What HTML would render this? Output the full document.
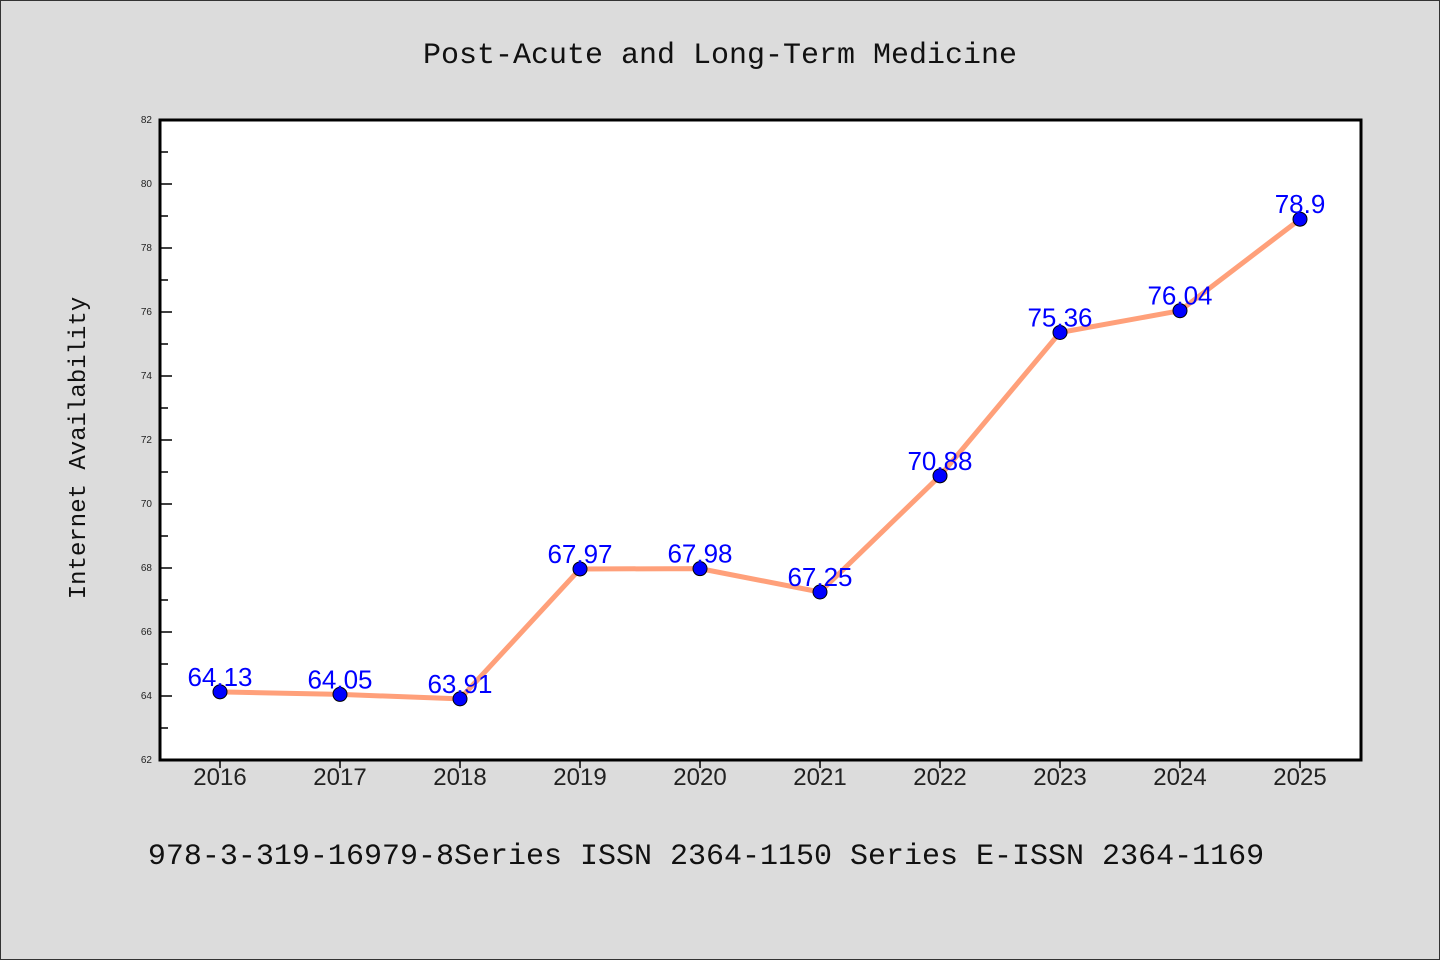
<!DOCTYPE html>
<html><head><meta charset="utf-8"><style>
html,body{margin:0;padding:0;background:#dcdcdc;}
svg{display:block;}
</style></head><body>
<svg id="chart" width="1440" height="960" xmlns="http://www.w3.org/2000/svg">
<rect x="0.5" y="0.5" width="1439" height="959" fill="#dcdcdc" stroke="#333"/>
<text x="720" y="63" text-anchor="middle" font-family="'Liberation Mono','WenQuanYi Zen Hei',monospace" font-size="30" fill="#111">Post-Acute and Long-Term Medicine</text>
<rect x="160" y="120" width="1201" height="640" fill="#fff" stroke="#000" stroke-width="3"/>
<text transform="translate(85,448) rotate(-90)" text-anchor="middle" font-family="'Liberation Mono','WenQuanYi Zen Hei',monospace" font-size="24" fill="#111">Internet Availability</text>
<text x="706" y="864" text-anchor="middle" font-family="'Liberation Mono','WenQuanYi Zen Hei',monospace" font-size="30" fill="#111">978-3-319-16979-8Series ISSN 2364-1150 Series E-ISSN 2364-1169</text>
<g id="axes"></g>
<g id="series"></g>
</svg>
<script>
const years = ["2016","2017","2018","2019","2020","2021","2022","2023","2024","2025"];
const values = [64.13,64.05,63.91,67.97,67.98,67.25,70.88,75.36,76.04,78.9];
const valueLabels = ["64.13","64.05","63.91","67.97","67.98","67.25","70.88","75.36","76.04","78.9"];
const yTicks = [62,64,66,68,70,72,74,76,78,80,82];
const yMin = 62, yMax = 82;
const NS = "http://www.w3.org/2000/svg";
const px0 = 160, px1 = 1361, py0 = 760, py1 = 120;
function xPos(i){ return 220 + i * (1300 - 220) / (years.length - 1); }
function yPos(v){ return py0 - (v - yMin) / (yMax - yMin) * (py0 - py1); }
function mk(tag, attrs){ const e = document.createElementNS(NS, tag); for (const k in attrs) e.setAttribute(k, attrs[k]); return e; }
const axes = document.getElementById('axes');
const series = document.getElementById('series');
yTicks.forEach(function(t){
  const y = yPos(t);
  const tk = mk('line', {x1: px0, x2: px0 + 12, y1: y, y2: y, stroke: '#000', 'stroke-width': 1.5});
  
  
  axes.appendChild(tk);
  const lb = mk('text', {x: 152, y: y + 3, 'text-anchor': 'end', 'font-family': 'Liberation Sans, sans-serif', 'font-size': 10, fill: '#222'});
  lb.textContent = t;
  
  
  axes.appendChild(lb);
  if (t < yMax) {
    const ym = yPos(t + 1);
    const mt = mk('line', {x1: px0, x2: px0 + 8, y1: ym, y2: ym, stroke: '#000', 'stroke-width': 1.5});
    
    
    axes.appendChild(mt);
  }
});
years.forEach(function(yr, i){
  const x = xPos(i);
  const tk = mk('line', {x1: x, x2: x, y1: py0, y2: py0 + 8, stroke: '#000', 'stroke-width': 1.5});
  
  
  axes.appendChild(tk);
  const lb = mk('text', {x: x, y: 785, 'text-anchor': 'middle', 'font-family': 'Liberation Sans, sans-serif', 'font-size': 24, fill: '#222'});
  lb.textContent = yr;
  
  
  axes.appendChild(lb);
});
const pts = values.map(function(v, i){ return xPos(i) + ',' + yPos(v); }).join(' ');
const line = mk('polyline', {points: pts, fill: 'none', stroke: '#ffa07a', 'stroke-width': 5, 'stroke-linejoin': 'round'});


series.appendChild(line);
values.forEach(function(v, i){
  const c = mk('circle', {cx: xPos(i), cy: yPos(v), r: 7, fill: '#0000ff', stroke: '#000', 'stroke-width': 1});
  
  
  series.appendChild(c);
});
values.forEach(function(v, i){
  const t = mk('text', {x: xPos(i), y: yPos(v) - 6, 'text-anchor': 'middle', 'font-family': 'Liberation Sans, sans-serif', 'font-size': 26, fill: '#0000ff'});
  t.textContent = valueLabels[i];
  
  
  series.appendChild(t);
});
</script>
</body></html>
